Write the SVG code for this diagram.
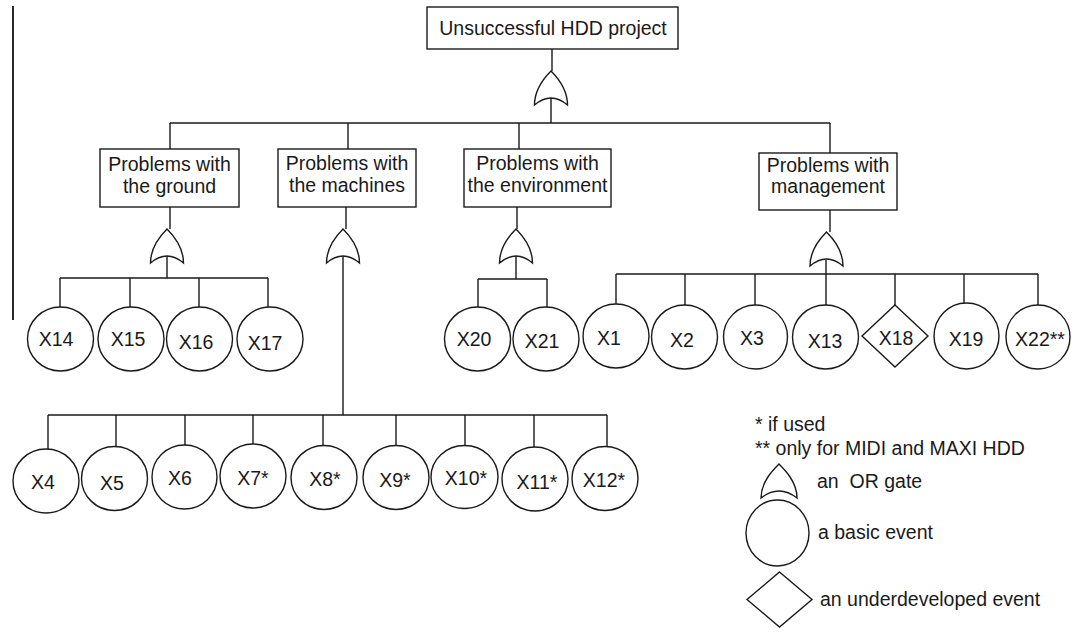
<svg xmlns="http://www.w3.org/2000/svg" xmlns:xlink="http://www.w3.org/1999/xlink" width="1073" height="638" viewBox="0 0 1073 638">
<style>
.ln{stroke:#1a1a1a;stroke-width:1.4;fill:none}
.bx{stroke:#1a1a1a;stroke-width:1.4;fill:#fff}
.ev{stroke:#1a1a1a;stroke-width:1.4;fill:#fff}
.t{font-family:"Liberation Sans",Arial,sans-serif;font-size:19.5px;fill:#1a1a1a;text-anchor:middle}
.lg{font-family:"Liberation Sans",Arial,sans-serif;font-size:19.5px;fill:#1a1a1a}
</style>
<defs>
<path id="gate" d="M -16.5 34 C -16.5 18 -6 6 0 0 C 6 6 16.5 18 16.5 34 Q 0 20 -16.5 34 Z" style="stroke:#1a1a1a;stroke-width:1.4;fill:#fff"/>
</defs>
<rect width="1073" height="638" fill="#fff"/>
<line x1="13" y1="6" x2="13" y2="320" style="stroke:#111;stroke-width:1.8"/>

<g id="connectors" class="ln">
<path d="M552 49 V71 M551 98 V123 M170 123 H830 M170 123 V149 M348 123 V149 M519 123 V149 M830 123 V153"/>
<path d="M170 207 V229 M167 256 V278 M60 278 H268 M60 278 V307 M130 278 V307 M199 278 V307 M268 278 V307"/>
<path d="M346 207 V229 M343 256 V415 M48 415 H607 M48 415 V449 M116 415 V447 M185 415 V445 M253 415 V444 M323 415 V446 M396 415 V446 M465 415 V446 M534 415 V447 M607 415 V447"/>
<path d="M517 207 V229 M516 256 V279 M478 279 H547 M478 279 V307 M547 279 V307"/>
<path d="M830 210 V232 M826 260 V274 M616 274 H1038 M616 274 V304 M685 274 V305 M755 274 V305 M826 274 V305 M895 274 V305 M964 274 V303 M1038 274 V305"/>
</g>

<g id="top"><rect class="bx" x="427" y="7" width="251" height="42"/><text class="t" x="553" y="35">Unsuccessful HDD project</text></g>
<g id="gate-top"><use xlink:href="#gate" x="551" y="71"/></g>

<g id="ground"><rect class="bx" x="100" y="149" width="139" height="58"/><text class="t" x="169.5" y="171">Problems with</text><text class="t" x="169.5" y="193">the ground</text></g>
<g id="gate-ground"><use xlink:href="#gate" x="167" y="229"/></g>
<g id="machines"><rect class="bx" x="278" y="149" width="138" height="58"/><text class="t" x="347" y="170">Problems with</text><text class="t" x="347" y="192">the machines</text></g>
<g id="gate-machines"><use xlink:href="#gate" x="343" y="229"/></g>
<g id="environment"><rect class="bx" x="464" y="149" width="147" height="58"/><text class="t" x="537.5" y="170">Problems with</text><text class="t" x="537.5" y="192">the environment</text></g>
<g id="gate-environment"><use xlink:href="#gate" x="516" y="229"/></g>
<g id="management"><rect class="bx" x="759" y="153" width="138" height="57"/><text class="t" x="828" y="172">Problems with</text><text class="t" x="828" y="193">management</text></g>
<g id="gate-management"><use xlink:href="#gate" x="826.5" y="232"/></g>

<g id="X14"><ellipse class="ev" cx="60.5" cy="339" rx="33" ry="32"/><text class="t" x="56" y="346">X14</text></g>
<g id="X15"><ellipse class="ev" cx="131" cy="339" rx="33" ry="32"/><text class="t" x="128" y="346">X15</text></g>
<g id="X16"><ellipse class="ev" cx="199.5" cy="339" rx="33" ry="32"/><text class="t" x="196" y="349">X16</text></g>
<g id="X17"><ellipse class="ev" cx="270" cy="339" rx="33" ry="32"/><text class="t" x="265" y="350">X17</text></g>

<g id="X20"><ellipse class="ev" cx="477.5" cy="339" rx="33" ry="32"/><text class="t" x="474" y="346">X20</text></g>
<g id="X21"><ellipse class="ev" cx="546" cy="339" rx="33" ry="32"/><text class="t" x="542" y="348">X21</text></g>

<g id="X1"><ellipse class="ev" cx="616" cy="336" rx="33" ry="32"/><text class="t" x="609" y="345">X1</text></g>
<g id="X2"><ellipse class="ev" cx="684.5" cy="337" rx="33" ry="32"/><text class="t" x="682" y="347">X2</text></g>
<g id="X3"><ellipse class="ev" cx="755.5" cy="337" rx="32" ry="32"/><text class="t" x="752" y="345">X3</text></g>
<g id="X13"><ellipse class="ev" cx="825.5" cy="337" rx="33" ry="32"/><text class="t" x="825" y="348">X13</text></g>
<g id="X18"><polygon class="ev" points="895,305 928,336 895,367 862,336"/><text class="t" x="896" y="345">X18</text></g>
<g id="X19"><ellipse class="ev" cx="966.5" cy="336" rx="32.5" ry="33"/><text class="t" x="966" y="346">X19</text></g>
<g id="X22"><ellipse class="ev" cx="1038" cy="337" rx="32" ry="32"/><text class="t" x="1040" y="346">X22**</text></g>

<g id="X4"><ellipse class="ev" cx="46" cy="481" rx="33" ry="32"/><text class="t" x="43" y="489">X4</text></g>
<g id="X5"><ellipse class="ev" cx="114.5" cy="478.5" rx="33" ry="32"/><text class="t" x="112" y="490">X5</text></g>
<g id="X6"><ellipse class="ev" cx="184.5" cy="477" rx="32.5" ry="32"/><text class="t" x="180" y="485">X6</text></g>
<g id="X7"><ellipse class="ev" cx="253" cy="476" rx="33" ry="32"/><text class="t" x="253" y="485">X7*</text></g>
<g id="X8"><ellipse class="ev" cx="324" cy="477.5" rx="33" ry="32"/><text class="t" x="325" y="486">X8*</text></g>
<g id="X9"><ellipse class="ev" cx="396" cy="477.5" rx="33" ry="32"/><text class="t" x="395" y="487">X9*</text></g>
<g id="X10"><ellipse class="ev" cx="464.5" cy="477" rx="33.5" ry="31.5"/><text class="t" x="466" y="485">X10*</text></g>
<g id="X11"><ellipse class="ev" cx="535" cy="479" rx="33" ry="32"/><text class="t" x="537" y="489">X11*</text></g>
<g id="X12"><ellipse class="ev" cx="605" cy="478.5" rx="33" ry="32"/><text class="t" x="604" y="487">X12*</text></g>

<g id="legend">
<text class="lg" x="755" y="431">* if used</text>
<text class="lg" x="755" y="455">** only for MIDI and MAXI HDD</text>
<path d="M 761 498 C 761 482 773 470 779 464 C 785 470 797 482 797 498 Q 779 484 761 498 Z" class="ev"/>
<text class="lg" x="817" y="488" xml:space="preserve">an  OR gate</text>
<ellipse class="ev" cx="777.5" cy="533" rx="31.5" ry="33"/>
<text class="lg" x="818" y="539">a basic event</text>
<polygon class="ev" points="779.5,572 812,599.5 779.5,627 747,599.5"/>
<text class="lg" x="820" y="606">an underdeveloped event</text>
</g>
</svg>
